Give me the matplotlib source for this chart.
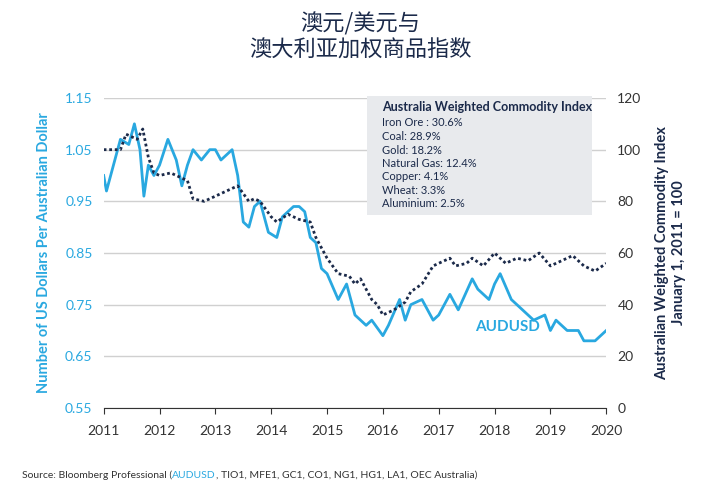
import matplotlib
matplotlib.use("Agg")
import matplotlib.pyplot as plt
from matplotlib.patches import Rectangle

plt.rcParams['font.family'] = ['Lato', 'Noto Sans CJK SC', 'DejaVu Sans']

aud_x = [2011.0,2011.05,2011.1,2011.2,2011.3,2011.45,2011.55,2011.65,2011.72,2011.8,2011.9,2012.0,2012.15,2012.3,2012.4,2012.5,2012.6,2012.75,2012.9,2013.0,2013.1,2013.3,2013.4,2013.5,2013.6,2013.7,2013.8,2013.95,2014.1,2014.2,2014.4,2014.5,2014.6,2014.7,2014.8,2014.9,2015.0,2015.2,2015.35,2015.5,2015.6,2015.7,2015.8,2016.0,2016.1,2016.3,2016.4,2016.5,2016.7,2016.9,2017.0,2017.2,2017.35,2017.6,2017.7,2017.9,2018.0,2018.1,2018.3,2018.5,2018.7,2018.9,2019.0,2019.1,2019.3,2019.5,2019.6,2019.8,2019.9,2020.0]
aud_y = [1.00,0.97,0.99,1.03,1.07,1.06,1.10,1.05,0.96,1.02,1.00,1.02,1.07,1.03,0.98,1.02,1.05,1.03,1.05,1.05,1.03,1.05,1.00,0.91,0.90,0.94,0.95,0.89,0.88,0.92,0.94,0.94,0.93,0.88,0.87,0.82,0.81,0.76,0.79,0.73,0.72,0.71,0.72,0.69,0.71,0.76,0.72,0.75,0.76,0.72,0.73,0.77,0.74,0.80,0.78,0.76,0.79,0.81,0.76,0.74,0.72,0.73,0.70,0.72,0.70,0.70,0.68,0.68,0.69,0.70]

idx_x = [2011.0,2011.3,2011.4,2011.6,2011.7,2011.8,2011.9,2012.0,2012.2,2012.5,2012.6,2012.8,2013.0,2013.2,2013.4,2013.5,2013.6,2013.7,2013.8,2014.0,2014.1,2014.3,2014.5,2014.7,2014.8,2015.0,2015.2,2015.4,2015.5,2015.6,2015.7,2015.8,2015.9,2016.0,2016.2,2016.4,2016.5,2016.7,2016.9,2017.0,2017.2,2017.3,2017.5,2017.6,2017.8,2018.0,2018.2,2018.4,2018.6,2018.8,2019.0,2019.2,2019.4,2019.6,2019.8,2020.0]
idx_y = [100,100,106,104,108,97,91,90,91,88,81,80,82,84,86,83,80,81,80,74,72,75,73,72,66,58,52,51,48,50,46,42,40,36,38,41,45,48,55,56,58,55,56,58,55,60,56,58,57,60,55,57,59,55,53,56]

years = list(range(2011, 2021))
left_ticks = [0.55,0.65,0.75,0.85,0.95,1.05,1.15]
right_ticks = [0,20,40,60,80,100,120]

blue = '#29a8e0'; navy = '#1b2a4a'
fig = plt.figure(figsize=(7.2,5.0), dpi=100)
ax = fig.add_axes([0.144,0.184,0.698,0.62])
ax2 = ax.twinx()
ax.set_xlim(2011,2020); ax.set_ylim(0.55,1.15)
ax2.set_ylim(0,120)
for t in left_ticks:
    ax.axhline(t, color='#d0d0d0', lw=1, zorder=0)
ax.plot(aud_x, aud_y, color=blue, lw=2)
ax2.plot(idx_x, idx_y, color=navy, lw=2, ls=(0,(1,1)))
ax.set_xticks(years); ax.set_xticklabels([str(y) for y in years], color='#333', fontsize=10)
ax.set_yticks(left_ticks); ax.set_yticklabels([f"{t:.2f}" for t in left_ticks], color=blue, fontsize=10)
ax2.set_yticks(right_ticks); ax2.set_yticklabels([str(t) for t in right_ticks], color='#333', fontsize=10)
for a in (ax, ax2):
    for s in a.spines.values(): s.set_visible(False)
    a.tick_params(length=0, pad=8)
ax.spines['bottom'].set_visible(True); ax.spines['bottom'].set_color('#333')
ax.tick_params(axis='x', length=4, color='#333')
ax.set_ylabel('Number of US Dollars Per Australian Dollar', color=blue, fontsize=10.5, fontweight='bold', labelpad=10)
ax2.set_ylabel('Australian Weighted Commodity Index\nJanuary 1, 2011 = 100', color=navy, fontsize=10.5, fontweight='bold', labelpad=10)
ax.text(2017.65, 0.70, 'AUDUSD', color=blue, fontsize=11, fontweight='bold')

box = Rectangle((367/720, 1-215/500), 225/720, 119/500, transform=fig.transFigure, facecolor='#e8eaed', edgecolor='none', zorder=3)
fig.patches.append(box)
fig.text(382/720, 1-107/500, 'Australia Weighted Commodity Index', fontsize=9, fontweight='bold', color=navy, va='center', zorder=4)
items = ['Iron Ore : 30.6%','Coal: 28.9%','Gold: 18.2%','Natural Gas: 12.4%','Copper: 4.1%','Wheat: 3.3%','Aluminium: 2.5%']
for i, s in enumerate(items):
    fig.text(382/720, 1-(123+i*13.5)/500, s, fontsize=8, color=navy, va='center', zorder=4)

fig.text(0.5, 1-37/500, '澳元/美元与\n澳大利亚加权商品指数', ha='center', va='center', fontsize=16, color=navy,
         family=['Noto Sans CJK SC','DejaVu Sans'], linespacing=1.2)
fig.canvas.draw()
r = fig.canvas.get_renderer()
def w(s):
    tt = fig.text(0,0,s,fontsize=7.5); bb = tt.get_window_extent(r); tt.remove(); return bb.width/720
fig.text(22/720, 1-475/500, 'Source: Bloomberg Professional (', fontsize=7.5, color='#333', va='center')
x0 = 22/720 + w('Source: Bloomberg Professional (')
fig.text(x0, 1-475/500, 'AUDUSD', fontsize=7.5, color=blue, va='center')
x1 = x0 + w('AUDUSD')
fig.text(x1, 1-475/500, ', TIO1, MFE1, GC1, CO1, NG1, HG1, LA1, OEC Australia)', fontsize=7.5, color='#333', va='center')
fig.savefig('out.png', dpi=100, facecolor='white')
